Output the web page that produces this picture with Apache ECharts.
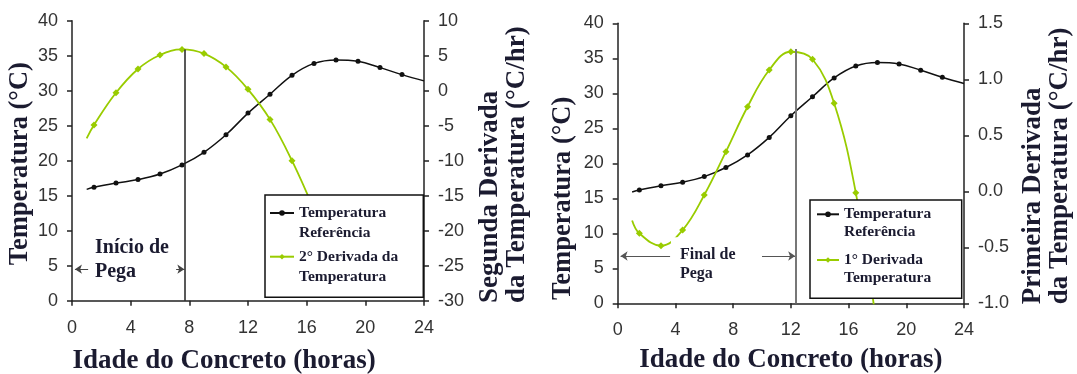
<!DOCTYPE html>
<html><head><meta charset="utf-8">
<script src="https://cdn.jsdelivr.net/npm/echarts@6/dist/echarts.min.js"></script>
<style>html,body{margin:0;padding:0;background:#fff}#c{width:1077px;height:374px}</style>
</head><body><div id="c"></div>
<script>
// ---- data ----
const hours = [1, 1.5, 3, 4.5, 6, 7.5, 9, 10.5, 12, 13.5, 15, 16.5, 18, 19.5, 21, 22.5, 24];
const tempRef = [15.9, 16.2, 16.8, 17.3, 18.1, 19.4, 21.2, 23.7, 26.8, 29.5, 32.2, 33.9, 34.4, 34.2, 33.3, 32.3, 31.4];
const hours2nd = [1, 1.5, 3, 4.5, 6, 7.5, 9, 10.5, 12, 13.5, 15, 16.5];
const secondDeriv = [-6.8, -4.9, -0.3, 3.1, 5.1, 5.9, 5.3, 3.4, 0.2, -4.1, -10.0, -17.0];
const hours1st = [1, 1.5, 3, 4.5, 6, 7.5, 9, 10.5, 12, 13.5, 15, 16.5, 18];
const firstDeriv = [-0.26, -0.375, -0.486, -0.346, -0.033, 0.354, 0.755, 1.083, 1.246, 1.179, 0.786, -0.012, -1.25];
const xRange = [0, 24, 4];
const tempRange = [0, 40, 5];
const secondRange = [-30, 10, 5];
const firstRange = [-1, 1.5, 0.5];
const seriesNames = ['Temperatura Referência', '2° Derivada da Temperatura', 'Temperatura Referência ', '1° Derivada Temperatura'];
const legendLines = {
  'Temperatura Referência': ['Temperatura', 'Referência'],
  '2° Derivada da Temperatura': ['2° Derivada da', 'Temperatura'],
  'Temperatura Referência ': ['Temperatura', 'Referência'],
  '1° Derivada Temperatura': ['1° Derivada', 'Temperatura']
};
const xTitle = 'Idade do Concreto (horas)';
const tempTitle = 'Temperatura (°C)';
const secondTitle = ['Segunda Derivada', 'da Temperatura (°C/hr)'];
const firstTitle = ['Primeira Derivada', 'da Temperatura (°C/hr)'];
const note1 = 'Início de\nPega';
const note2 = 'Final de\nPega';

// ---- styles ----
const SERIF = '"Liberation Serif", "Times New Roman", serif';
const SANS = '"Liberation Sans", Arial, sans-serif';
const TITLE_C = '#1b1b30';
const BLACK = '#111111';
const GREEN = '#99cc00';
const axisLine = {show: true, onZero: false, lineStyle: {color: '#222', width: 1.5}};
const axisTick = {show: true, inside: false, length: 5, lineStyle: {color: '#222', width: 1.5}};
const lab = (fmt) => ({color: '#333', fontFamily: SANS, fontSize: 18, margin: 14, formatter: fmt});
const titleStyle = (extra) => Object.assign({fontFamily: SERIF, fontWeight: 'bold', fontSize: 27, color: TITLE_C, lineHeight: 28}, extra || {});
const zip = (xs, ys) => xs.map((x, i) => [x, ys[i]]);

function xAxis(gi, gap, pad) {
  return {type: 'value', gridIndex: gi, min: xRange[0], max: xRange[1], interval: xRange[2],
    axisLine, axisTick, splitLine: {show: false}, axisLabel: Object.assign(lab(), {margin: 18}),
    name: xTitle, nameLocation: 'middle', nameGap: gap, nameTextStyle: titleStyle({padding: pad})};
}
function richName(lines) {
  return '{a|' + lines[0] + '}\n{a|' + lines[1] + '}';
}
const richStyle = (pad) => ({padding: pad, rich: {a: {align: 'left', fontFamily: SERIF, fontWeight: 'bold', fontSize: 27, color: TITLE_C, lineHeight: 27}}});

function legendItem(name, left, top, itemWidth, lh) {
  return {
    data: [name], left: left, top: top, padding: 0, orient: 'vertical', selectedMode: false, z: 20,
    itemWidth: itemWidth, itemHeight: 7, backgroundColor: 'transparent', borderWidth: 0,
    formatter: (n) => '{e| }\n{a|' + legendLines[n][0] + '}\n{a|' + legendLines[n][1] + '}',
    textStyle: {
      fontFamily: SERIF, fontWeight: 'bold', fontSize: 15.5, color: TITLE_C, lineHeight: lh,
      rich: {
        e: {fontSize: 8, lineHeight: lh},
        a: {fontFamily: SERIF, fontWeight: 'bold', fontSize: 15.5, color: TITLE_C, lineHeight: lh, align: 'left'}
      }
    }
  };
}

const option = {
  animation: false,
  backgroundColor: '#fff',
  grid: [
    {left: 72, top: 20.7, width: 352, height: 280, outerBoundsMode: 'none', containLabel: false},
    {left: 617.7, top: 23.3, width: 346.3, height: 280, outerBoundsMode: 'none', containLabel: false}
  ],
  xAxis: [xAxis(0, 46, [0, 48, 0, 0]), xAxis(1, 43, [0, 0, 0, 0])],
  yAxis: [
    {type: 'value', gridIndex: 0, position: 'left', min: tempRange[0], max: tempRange[1], interval: tempRange[2],
      axisLine, axisTick, splitLine: {show: false}, axisLabel: lab(),
      name: tempTitle, nameLocation: 'middle', nameGap: 34, nameTextStyle: titleStyle({fontSize: 26.5, padding: [0, 6, 0, 0]})},
    {type: 'value', gridIndex: 0, position: 'right', min: secondRange[0], max: secondRange[1], interval: secondRange[2],
      axisLine, axisTick, splitLine: {show: false}, axisLabel: lab(),
      name: richName(secondTitle), nameLocation: 'middle', nameRotate: 90, nameGap: 53, nameTextStyle: richStyle([0, 8, 0, 0])},
    {type: 'value', gridIndex: 1, position: 'left', min: tempRange[0], max: tempRange[1], interval: tempRange[2],
      axisLine, axisTick, splitLine: {show: false}, axisLabel: lab(),
      name: tempTitle, nameLocation: 'middle', nameGap: 41, nameTextStyle: titleStyle({fontSize: 26.5, padding: [0, 70, 0, 0]})},
    {type: 'value', gridIndex: 1, position: 'right', min: firstRange[0], max: firstRange[1], interval: firstRange[2],
      axisLine, axisTick, splitLine: {show: false}, axisLabel: lab((v) => v.toFixed(1)),
      name: richName(firstTitle), nameLocation: 'middle', nameRotate: 90, nameGap: 56, nameTextStyle: richStyle([0, 5, 0, 0])}
  ],
  graphic: {
    elements: [
      {type: 'rect', z: 10, silent: true, shape: {x: 265, y: 195, width: 158.3, height: 102.3},
        style: {fill: '#fff', stroke: '#111', lineWidth: 1.5}},
      {type: 'rect', z: 10, silent: true, shape: {x: 810, y: 200, width: 151.7, height: 98.3},
        style: {fill: '#fff', stroke: '#111', lineWidth: 1.5}}
    ]
  },
  legend: [
    legendItem(seriesNames[0], 269, 183, 24, 20),
    legendItem(seriesNames[1], 269, 226.7, 24, 20),
    legendItem(seriesNames[2], 816, 187.3, 22, 18),
    legendItem(seriesNames[3], 816, 233, 22, 18)
  ],
  series: [
    {
      name: seriesNames[0], type: 'line', xAxisIndex: 0, yAxisIndex: 0, z: 2,
      data: zip(hours, tempRef), smooth: 0.4,
      symbol: 'circle', symbolSize: (v, p) => (p.dataIndex === 0 || p.dataIndex === hours.length - 1) ? 0 : 5,
      lineStyle: {color: BLACK, width: 1.5}, itemStyle: {color: BLACK},
      markLine: {
        silent: true, symbolSize: 7, label: {show: false},
        lineStyle: {color: '#444', width: 1, type: 'solid'},
        data: [
          [{coord: [0.2, 4.5], symbol: 'arrow'}, {coord: [1.1, 4.5], symbol: 'none'}],
          [{coord: [7.1, 4.5], symbol: 'none'}, {coord: [7.66, 4.5], symbol: 'arrow'}]
        ]
      },
      markPoint: {
        silent: true, symbol: 'circle', symbolSize: 0,
        label: {show: true, position: [0, 0], formatter: note1, fontFamily: SERIF, fontWeight: 'bold', fontSize: 20, lineHeight: 24, color: TITLE_C},
        data: [{coord: [1.57, 9.3]}]
      }
    },
    {
      name: seriesNames[1], type: 'line', xAxisIndex: 0, yAxisIndex: 1,
      data: zip(hours2nd, secondDeriv), smooth: 0.4,
      symbol: 'diamond', symbolSize: (v, p) => p.dataIndex === 0 ? 0 : 7,
      lineStyle: {color: GREEN, width: 1.8}, itemStyle: {color: GREEN},
      markLine: {
        silent: true, symbol: 'none', label: {show: false},
        lineStyle: {color: '#222', width: 1.5, type: 'solid'},
        data: [[{coord: [7.72, 5.9]}, {coord: [7.72, -30]}]]
      }
    },
    {
      name: seriesNames[2], type: 'line', xAxisIndex: 1, yAxisIndex: 2, z: 2,
      data: zip(hours, tempRef), smooth: 0.4,
      symbol: 'circle', symbolSize: (v, p) => (p.dataIndex === 0 || p.dataIndex === hours.length - 1) ? 0 : 5,
      lineStyle: {color: BLACK, width: 1.5}, itemStyle: {color: BLACK},
      markLine: {
        silent: true, symbolSize: 7, label: {show: false},
        lineStyle: {color: '#555', width: 1.2, type: 'solid'},
        data: [
          [{coord: [0.2, 6.76], symbol: 'arrow'}, {coord: [3.63, 6.76], symbol: 'none'}],
          [{coord: [10.0, 6.76], symbol: 'none'}, {coord: [12.3, 6.76], symbol: 'arrow'}]
        ]
      }
    },
    {
      name: seriesNames[3], type: 'line', xAxisIndex: 1, yAxisIndex: 3,
      data: zip(hours1st, firstDeriv), smooth: 0.4,
      symbol: 'diamond', symbolSize: (v, p) => p.dataIndex === 0 ? 0 : 7,
      lineStyle: {color: GREEN, width: 1.8}, itemStyle: {color: GREEN},
      markLine: {
        silent: true, symbol: 'none', label: {show: false},
        lineStyle: {color: '#777', width: 2, type: 'solid'},
        data: [[{coord: [12.37, 1.27]}, {coord: [12.37, -1]}]]
      },
      markPoint: {
        silent: true, symbol: 'circle', symbolSize: 0,
        label: {show: true, position: [0, 0], formatter: note2, fontFamily: SERIF, fontWeight: 'bold', fontSize: 16, lineHeight: 19, color: TITLE_C,
          backgroundColor: '#fff', padding: [8, 4, 2, 9]},
        data: [{coord: [3.69, -0.41]}]
      }
    }
  ]
};
const chart = echarts.init(document.getElementById('c'), null, {renderer: 'canvas'});
chart.setOption(option);
</script></body></html>
